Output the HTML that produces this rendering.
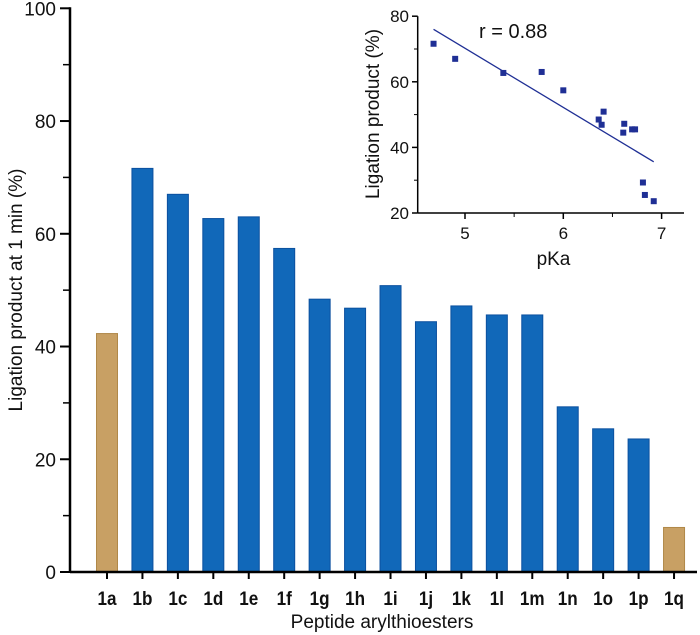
<!DOCTYPE html>
<html><head><meta charset="utf-8"><style>
html,body{margin:0;padding:0;background:#fff}
svg{display:block;font-family:"Liberation Sans",Arial,sans-serif}
</style></head><body>
<svg id="chart" width="700" height="635" viewBox="0 0 700 635" xmlns="http://www.w3.org/2000/svg"></svg>
<script>
const categories=["1a","1b","1c","1d","1e","1f","1g","1h","1i","1j","1k","1l","1m","1n","1o","1p","1q"];
const values=[42.3,71.6,67,62.7,63,57.4,48.4,46.8,50.8,44.4,47.2,45.6,45.6,29.3,25.4,23.6,7.9];
const highlight=["1a","1q"];
const yTicks=[0,20,40,60,80,100];
const insetPka=[4.68,4.90,5.39,5.78,6.0,6.36,6.39,6.41,6.61,6.62,6.70,6.73,6.81,6.83,6.92];
const insetYield=[71.6,67,62.7,63,57.4,48.5,46.9,50.9,44.5,47.2,45.5,45.5,29.3,25.5,23.6];
const fitLine=[[4.68,76],[6.92,35.6]];
const insetXTicks=[5,6,7];
const insetYTicks=[20,40,60,80];

const svg=document.getElementById('chart');
const NS="http://www.w3.org/2000/svg";
function mk(tag,attrs,parent){const e=document.createElementNS(NS,tag);for(const k in attrs)e.setAttribute(k,attrs[k]);(parent||svg).appendChild(e);return e;}
const X0=107,DX=35.44,Y0=572,YS=5.637;
const xs=i=>X0+i*DX, ys=v=>Y0-v*YS;
const main=mk('g',{});


categories.forEach((c,i)=>{
  const hl=highlight.includes(c);
  const r=mk('rect',{x:xs(i)-10.5,y:ys(values[i]),width:21,height:values[i]*YS,fill:hl?'#c8a064':'#1168b9',stroke:hl?'#b08848':'#0b509f','stroke-width':1},main);
  
  
  mk('line',{x1:xs(i),x2:xs(i),y1:Y0,y2:Y0+7,stroke:'#000','stroke-width':2},main);
  const t=mk('text',{x:xs(i),y:Y0+33,'text-anchor':'middle','font-size':19,'font-weight':'bold',fill:'#111',transform:`translate(${xs(i)*0.1},0) scale(0.9,1)`},main);
  t.textContent=c;
  
  
});
mk('line',{x1:70,x2:697,y1:Y0,y2:Y0,stroke:'#000','stroke-width':2.5},main);
mk('line',{x1:70,x2:70,y1:ys(100)-1,y2:Y0+1,stroke:'#000','stroke-width':2.5},main);
for(let v=10;v<100;v+=20) mk('line',{x1:63,x2:70,y1:ys(v),y2:ys(v),stroke:'#000','stroke-width':1.5},main);
yTicks.forEach(v=>{
  mk('line',{x1:60,x2:70,y1:ys(v),y2:ys(v),stroke:'#000','stroke-width':2},main);
  const t=mk('text',{x:56,y:ys(v)+7,'text-anchor':'end','font-size':19,fill:'#111'},main);
  t.textContent=v;
  
  
});
const xt=mk('text',{x:382,y:628,'text-anchor':'middle','font-size':19,fill:'#111'},main);
xt.textContent='Peptide arylthioesters';


const yt=mk('text',{x:0,y:0,'text-anchor':'middle','font-size':19,fill:'#111',transform:'translate(22,290) rotate(-90)'},main);
yt.textContent='Ligation product at 1 min (%)';


const IX=p=>465+(p-5)*98.3, IY=v=>213-(v-20)*3.28;
const ins=mk('g',{});


mk('line',{x1:417.7,x2:684,y1:213,y2:213,stroke:'#000','stroke-width':1.5},ins);
mk('line',{x1:417.7,x2:417.7,y1:IY(80),y2:213,stroke:'#000','stroke-width':1.5},ins);
insetYTicks.forEach(v=>{
  mk('line',{x1:412,x2:417.7,y1:IY(v),y2:IY(v),stroke:'#000','stroke-width':1.5},ins);
  const t=mk('text',{x:409,y:IY(v)+6,'text-anchor':'end','font-size':17,fill:'#111'},ins);
  t.textContent=v;
  
  
});
[30,50,70].forEach(v=>mk('line',{x1:414,x2:417.7,y1:IY(v),y2:IY(v),stroke:'#000','stroke-width':1},ins));
insetXTicks.forEach(p=>{
  mk('line',{x1:IX(p),x2:IX(p),y1:213,y2:219,stroke:'#000','stroke-width':1.5},ins);
  const t=mk('text',{x:IX(p),y:239,'text-anchor':'middle','font-size':17,fill:'#111'},ins);
  t.textContent=p;
  
  
});
[5.5,6.5].forEach(p=>mk('line',{x1:IX(p),x2:IX(p),y1:213,y2:217,stroke:'#000','stroke-width':1},ins));
const ixt=mk('text',{x:IX(5.9),y:265,'text-anchor':'middle','font-size':19,fill:'#111'},ins);
ixt.textContent='pKa';


const iyt=mk('text',{x:0,y:0,'text-anchor':'middle','font-size':19,fill:'#111',transform:'translate(379,114) rotate(-90)'},ins);
iyt.textContent='Ligation product (%)';


const fl=mk('line',{x1:IX(fitLine[0][0]),y1:IY(fitLine[0][1]),x2:IX(fitLine[1][0]),y2:IY(fitLine[1][1]),stroke:'#1f2f95','stroke-width':1.3},ins);


insetPka.forEach((p,i)=>{
  const r=mk('rect',{x:IX(p)-3,y:IY(insetYield[i])-3,width:6,height:6,fill:'#1f2f95'},ins);
  
  
});
const rt=mk('text',{x:479,y:38,'font-size':20,fill:'#111'},ins);
rt.textContent='r = 0.88';


</script>
</body></html>
